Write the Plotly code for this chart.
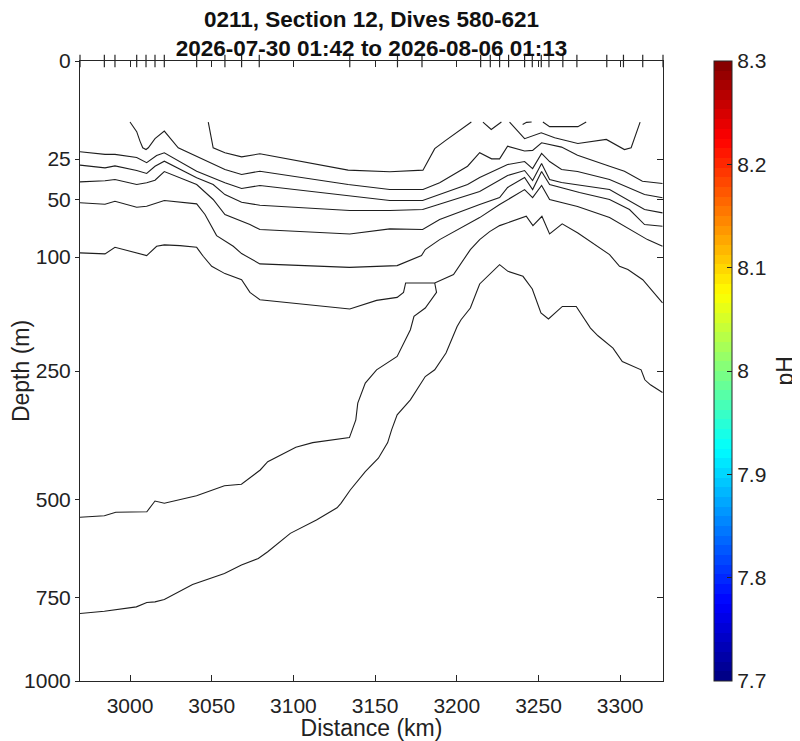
import numpy as np
import plotly.graph_objects as go

# section geometry: dive locations (km) marked along the surface
dive_km = [2969.4, 2984.3, 2990.8, 3004.1, 3009.8, 3015.3, 3021.0, 3040.8, 3058.1, 3068.3,
           3079.1, 3134.5, 3163.7, 3178.7, 3214.6, 3220.5, 3226.2, 3231.7, 3241.5, 3246.2,
           3251.7, 3256.4, 3264.9, 3273.5, 3291.8, 3302.0, 3313.8, 3326.2]

# pH contour lines (distance km, depth m)
c1_km = [3047.9, 3050.9, 3058.1, 3068.3, 3079.5, 3133.5, 3159.0, 3179.3, 3186.5, 3192.6, 3208.9]
c1_depth = [9.7, 19.6, 21.9, 23.9, 22.4, 31.0, 31.9, 31.0, 20.0, 16.7, 9.7]

c2_km = [3000.0, 3004.1, 3006.1, 3007.8, 3009.8, 3011.2, 3015.3, 3021.0, 3029.5, 3040.8,
         3058.1, 3068.3, 3079.5, 3133.5, 3159.0, 3179.3, 3189.5, 3206.6, 3214.0, 3221.3,
         3226.2, 3231.1, 3241.5, 3246.4, 3251.9, 3264.1, 3273.9, 3293.5, 3302.6, 3313.6, 3325.9]
c2_depth = [9.7, 13.0, 16.7, 19.6, 20.4, 19.6, 15.7, 12.8, 19.6, 23.6,
            30.6, 33.5, 31.6, 39.7, 43.0, 43.0, 38.6, 28.8, 21.9, 24.9,
            24.9, 18.9, 21.1, 20.8, 17.4, 19.3, 23.1, 28.8, 31.6, 37.6, 39.0]

c3_km = [2969.4, 2984.7, 2990.8, 3004.1, 3010.2, 3016.3, 3021.0, 3040.8, 3058.1, 3068.3,
         3079.5, 3134.5, 3159.0, 3179.1, 3206.6, 3214.0, 3231.1, 3241.5, 3246.4, 3251.9,
         3256.8, 3264.1, 3273.9, 3293.5, 3314.9, 3325.9]
c3_depth = [21.4, 22.7, 22.7, 24.2, 26.9, 23.2, 21.9, 31.6, 38.6, 42.3,
            40.3, 47.6, 50.6, 50.6, 39.7, 35.3, 27.9, 26.3, 30.1, 22.2,
            26.3, 30.6, 31.8, 36.5, 46.4, 48.7]

c4_km = [2969.4, 2984.7, 2990.8, 3004.1, 3010.2, 3015.3, 3021.0, 3040.8, 3050.9, 3058.1,
         3068.3, 3079.5, 3134.5, 3159.0, 3179.1, 3214.0, 3231.1, 3241.5, 3246.4, 3251.9,
         3256.8, 3264.1, 3293.5, 3314.9, 3325.9]
c4_depth = [28.2, 29.7, 28.6, 31.2, 32.9, 28.8, 26.1, 35.5, 39.7, 46.4,
            51.9, 54.1, 58.2, 58.2, 57.4, 44.3, 34.1, 31.2, 37.2, 27.3,
            36.5, 38.4, 43.0, 57.4, 60.0]

c5_km = [2969.4, 2984.7, 2990.8, 3004.1, 3010.2, 3015.3, 3021.0, 3040.8, 3050.9, 3058.1,
         3073.4, 3079.5, 3134.5, 3159.0, 3179.1, 3189.5, 3214.0, 3226.2, 3231.1, 3241.5,
         3246.4, 3251.9, 3256.8, 3275.1, 3293.5, 3305.7, 3314.9, 3325.9]
c5_depth = [38.0, 37.3, 36.5, 39.7, 38.6, 37.0, 31.8, 39.7, 49.9, 61.3,
            69.6, 73.9, 77.8, 73.3, 73.9, 65.4, 53.6, 48.5, 41.6, 35.3,
            43.0, 31.8, 39.7, 45.0, 49.9, 57.4, 69.6, 71.1]

c6_km = [2969.4, 2984.7, 2990.8, 3004.1, 3010.2, 3021.0, 3040.8, 3045.9, 3053.0, 3058.1,
         3063.2, 3068.3, 3079.5, 3134.3, 3163.5, 3178.4, 3180.7, 3189.5, 3206.6, 3214.0,
         3226.2, 3231.1, 3241.5, 3246.4, 3251.9, 3256.8, 3273.9, 3293.5, 3305.7, 3316.7, 3325.9]
c6_depth = [52.3, 53.4, 51.2, 55.6, 54.9, 50.6, 53.1, 61.3, 79.3, 84.6,
            89.3, 96.5, 107.1, 110.8, 108.9, 98.5, 92.5, 83.0, 69.6, 63.8,
            53.6, 49.9, 43.0, 48.5, 40.3, 49.9, 55.1, 63.8, 73.9, 83.0, 89.3]

c7_km = [2969.4, 2984.7, 2990.8, 3010.2, 3016.3, 3021.0, 3030.6, 3040.8, 3044.8, 3050.0,
         3058.1, 3068.3, 3073.4, 3079.5, 3134.5, 3150.9, 3163.5, 3167.4, 3168.7, 3186.5,
         3198.0, 3208.3, 3214.0, 3220.1, 3226.2, 3242.5, 3246.6, 3252.1, 3256.8, 3264.5,
         3274.1, 3293.5, 3299.6, 3304.7, 3313.8, 3325.9]
c7_depth = [95.8, 96.8, 90.3, 98.5, 89.3, 88.0, 88.7, 90.3, 99.2, 109.7,
            117.6, 124.4, 139.3, 148.2, 160.0, 149.1, 145.4, 139.3, 128.2, 128.2,
            118.7, 92.5, 83.0, 75.7, 70.5, 62.7, 70.5, 62.7, 77.8, 69.0,
            76.9, 97.5, 109.7, 113.2, 124.4, 152.3]

c8_km = [2969.4, 2984.3, 2991.3, 3010.3, 3015.3, 3021.0, 3040.7, 3057.8, 3068.2, 3079.7,
         3084.3, 3101.5, 3111.8, 3134.3, 3138.2, 3139.4, 3144.0, 3150.9, 3163.5, 3171.6,
         3173.8, 3180.7, 3187.6, 3186.5]
c8_depth = [541.7, 537.9, 529.9, 528.5, 503.7, 508.9, 491.6, 469.2, 466.1, 435.1,
            417.6, 388.1, 378.9, 369.0, 335.0, 304.5, 269.9, 248.1, 227.1, 187.9,
            169.7, 158.7, 139.3, 128.2]

c9_km = [2969.4, 2984.3, 3003.9, 3010.3, 3015.3, 3021.0, 3038.3, 3048.7, 3057.8, 3068.2,
         3078.5, 3084.3, 3098.1, 3114.1, 3126.7, 3129.1, 3134.8, 3144.0, 3152.0, 3157.7,
         3160.1, 3163.5, 3171.6, 3180.7, 3186.5, 3193.4, 3196.8, 3200.2, 3202.6, 3208.3,
         3214.0, 3226.2, 3231.3, 3240.5, 3246.2, 3251.5, 3256.1, 3264.6, 3273.1, 3281.8,
         3286.4, 3295.6, 3301.3, 3312.8, 3315.1, 3318.5, 3325.9]
c9_depth = [794.1, 787.5, 775.2, 762.7, 761.1, 754.3, 712.8, 696.5, 683.1, 661.1,
            643.6, 626.6, 580.5, 548.2, 519.2, 508.9, 478.8, 438.7, 410.5, 378.9,
            354.0, 325.8, 298.7, 259.0, 248.1, 221.9, 202.1, 183.3, 174.1, 158.7,
            129.3, 107.9, 115.1, 120.6, 135.2, 165.2, 173.2, 156.7, 156.7, 185.5,
            196.4, 214.4, 234.9, 248.1, 264.4, 272.8, 285.9]

# short pieces that run into the top of the data near the surface
f1_km = [3216.0, 3221.1, 3227.3]
f1_depth = [9.7, 12.2, 9.7]
f2_km = [3232.3, 3241.5, 3251.7, 3259.9, 3274.1, 3291.5, 3302.6, 3306.7, 3312.2]
f2_depth = [9.7, 15.7, 13.4, 15.3, 17.7, 16.0, 20.4, 19.6, 9.7]
f3_km = [3240.3, 3242.7, 3245.8]
f3_depth = [10.5, 9.8, 9.7]
f4_km = [3252.7, 3256.8, 3274.1, 3279.2]
f4_depth = [9.7, 11.2, 11.2, 9.7]

depth_ticks = [0, 25, 50, 100, 250, 500, 750, 1000]
dist_ticks = [3000, 3050, 3100, 3150, 3200, 3250, 3300]
ph_ticks = [7.7, 7.8, 7.9, 8.0, 8.1, 8.2, 8.3]
ph_labels = ["7.7", "7.8", "7.9", "8", "8.1", "8.2", "8.3"]

contours = [
    (c1_km, c1_depth), (c2_km, c2_depth), (c3_km, c3_depth), (c4_km, c4_depth),
    (c5_km, c5_depth), (c6_km, c6_depth), (c7_km, c7_depth), (c8_km, c8_depth),
    (c9_km, c9_depth), (f1_km, f1_depth), (f2_km, f2_depth), (f3_km, f3_depth),
    (f4_km, f4_depth),
]


def sq(d):
    # depth axis is drawn on a square-root scale
    return np.sqrt(np.asarray(d, dtype=float))


def jet(n=64):
    scale = []
    for i in range(n):
        v = (i + 0.5) / n
        r, g, b = (min(max(1.5 - abs(4 * v - k), 0), 1) for k in (3, 2, 1))
        c = f"rgb({int(r * 255)},{int(g * 255)},{int(b * 255)})"
        scale += [[i / n, c], [(i + 1) / n, c]]
    return scale


FONT = "Liberation Sans, Arial, sans-serif"
AX = "#262626"
# the page body adds an 8px margin, so the figure is 8px smaller each way
W, H = 792, 733

fig = go.Figure()
for km, depth in contours:
    fig.add_trace(go.Scatter(x=km, y=sq(depth), mode="lines",
                             line=dict(color="#1e1e1e", width=1.1),
                             showlegend=False, hoverinfo="skip"))

fig.add_trace(go.Scatter(
    x=dive_km, y=sq([0] * len(dive_km)), mode="markers", cliponaxis=False,
    marker=dict(symbol="line-ns", size=9, line=dict(color=AX, width=1.2)),
    showlegend=False, hoverinfo="skip"))

# colour scale only (no filled field in this panel)
fig.add_trace(go.Scatter(
    x=[None], y=[None], mode="markers", showlegend=False,
    marker=dict(color=[8.0], cmin=7.7, cmax=8.3, colorscale=jet(64), showscale=True,
                colorbar=dict(x=1.0875, xanchor="left", y=0.5, yanchor="middle",
                              len=1, lenmode="fraction", thickness=18,
                              xpad=0, ypad=0,
                              outlinecolor=AX, outlinewidth=1,
                              ticks="inside", ticklen=5, tickcolor=AX,
                              tickvals=ph_ticks, ticktext=ph_labels,
                              tickfont=dict(size=21, color="#222")))))

# right-hand copy of the depth axis (ticks point inwards there)
fig.add_trace(go.Scatter(x=[None], y=[None], yaxis="y2", showlegend=False))

fig.add_annotation(text="pH", textangle=-90, x=1.21, y=0.5, xref="paper", yref="paper",
                   xanchor="center", yanchor="middle", showarrow=False,
                   font=dict(size=23, color="#222"))

fig.update_layout(
    width=W, height=H,
    template="none",
    paper_bgcolor="white", plot_bgcolor="white",
    margin=dict(l=72, r=137, t=53, b=60, autoexpand=False),
    font=dict(family=FONT, size=21, color="#222"),
    title=dict(text="<b>0211, Section 12, Dives 580-621</b><br>"
                    "<b>2026-07-30 01:42 to 2026-08-06 01:13</b>",
               x=0.5, xref="paper", xanchor="center",
               y=1 - 18.5 / H, yref="container", yanchor="middle",
               font=dict(size=22.5, color="#111")),
    xaxis=dict(range=[dive_km[0], dive_km[-1]], tickvals=dist_ticks,
               ticks="inside", ticklen=6, tickcolor=AX, tickwidth=1,
               showline=True, linecolor=AX, linewidth=1, mirror="ticks",
               showgrid=False, zeroline=False, automargin=False,
               ticklabelstandoff=6,
               title=dict(text="Distance (km)", font=dict(size=23), standoff=4)),
    yaxis=dict(range=[float(sq(1000)), 0], tickvals=sq(depth_ticks),
               ticktext=[str(t) for t in depth_ticks],
               ticks="outside", ticklen=4, tickcolor=AX, tickwidth=1,
               showline=True, linecolor=AX, linewidth=1,
               showgrid=False, zeroline=False, automargin=False,
               title=dict(text="Depth (m)", font=dict(size=23), standoff=0)),
    yaxis2=dict(range=[float(sq(1000)), 0], overlaying="y", side="right",
                tickvals=sq(depth_ticks), showticklabels=False,
                ticks="inside", ticklen=6, tickcolor=AX, tickwidth=1,
                showline=True, linecolor=AX, linewidth=1,
                showgrid=False, zeroline=False, automargin=False),
)

fig.write_html("out.html")
